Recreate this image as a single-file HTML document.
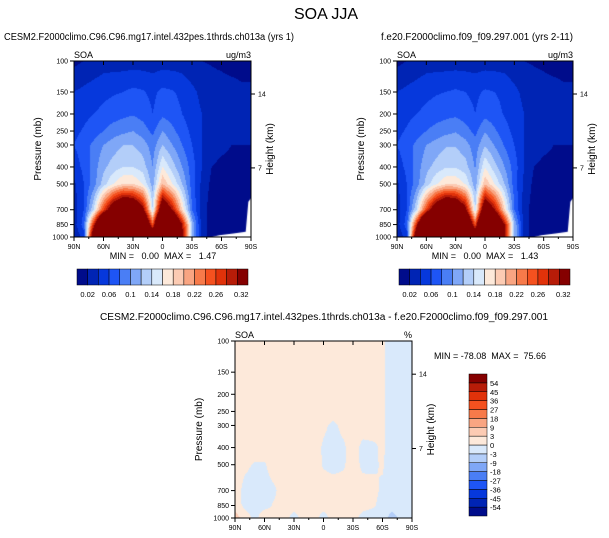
<!DOCTYPE html>
<html><head><meta charset="utf-8"><style>
body{margin:0;background:#fff;width:609px;height:538px;overflow:hidden;font-family:"Liberation Sans",sans-serif}
svg{position:absolute;left:0;top:0}
svg text{white-space:pre}
canvas{position:absolute}
</style></head><body>
<canvas id="c1"></canvas>
<canvas id="c2"></canvas>
<canvas id="c3"></canvas>
<svg id="s" width="609" height="538" font-family="Liberation Sans, sans-serif">
<text x="326" y="19" font-size="16" text-anchor="middle">SOA JJA</text>
<text x="149" y="40" font-size="10" text-anchor="middle" textLength="290" lengthAdjust="spacingAndGlyphs">CESM2.F2000climo.C96.C96.mg17.intel.432pes.1thrds.ch013a (yrs 1)</text>
<text x="477" y="40" font-size="10" text-anchor="middle" textLength="192" lengthAdjust="spacingAndGlyphs">f.e20.F2000climo.f09_f09.297.001 (yrs 2-11)</text>
<text x="324" y="320" font-size="10" text-anchor="middle" textLength="448" lengthAdjust="spacingAndGlyphs">CESM2.F2000climo.C96.C96.mg17.intel.432pes.1thrds.ch013a - f.e20.F2000climo.f09_f09.297.001</text>
</svg>
<script>
const lats=[90,80,70,60,50,40,30,20,10,0,-10,-20,-30,-40,-50,-60,-70,-80,-90];
const levs=[100,150,200,250,300,400,500,700,850,1000];
const soa1=[
[.015,.02,.025,.03,.03,.03,.03,.03,.03,.03,.03,.03,.025,.02,.018,.015,.01,.01,.01],
[.04,.045,.05,.055,.058,.06,.065,.062,.055,.065,.062,.055,.045,.035,.03,.03,.03,.025,.025],
[.05,.055,.06,.065,.07,.075,.078,.072,.06,.075,.07,.06,.05,.04,.035,.035,.035,.035,.035],
[.055,.062,.07,.08,.09,.095,.1,.09,.075,.1,.085,.07,.055,.04,.035,.032,.03,.03,.03],
[.06,.07,.085,.1,.11,.12,.12,.11,.09,.12,.1,.08,.06,.04,.03,.025,.02,.02,.02],
[.05,.065,.09,.115,.13,.14,.14,.13,.1,.16,.13,.1,.07,.04,.02,.015,.015,.015,.015],
[.035,.06,.09,.13,.16,.18,.18,.16,.11,.2,.16,.12,.07,.035,.015,.015,.015,.015,.015],
[.03,.06,.14,.26,.36,.42,.4,.32,.14,.38,.3,.18,.08,.03,.01,.01,.01,.01,.01],
[.03,.07,.28,.5,.6,.6,.55,.45,.25,.55,.45,.3,.12,.03,.01,.01,.01,.01,.01],
[.02,.05,.38,.6,.7,.7,.6,.5,.4,.6,.5,.32,.12,.03,.01,.005,.005,.005,.005]];
const soa2=[
[.015,.02,.025,.03,.03,.03,.03,.03,.03,.03,.03,.03,.025,.02,.018,.015,.01,.01,.01],
[.04,.045,.05,.055,.058,.06,.063,.06,.055,.063,.06,.055,.045,.035,.03,.03,.03,.025,.025],
[.05,.055,.06,.065,.07,.074,.076,.07,.06,.074,.068,.058,.05,.04,.035,.035,.035,.035,.035],
[.055,.062,.07,.08,.088,.093,.098,.088,.074,.098,.083,.068,.054,.04,.035,.032,.03,.03,.03],
[.06,.07,.085,.1,.108,.118,.118,.108,.088,.118,.098,.078,.06,.04,.03,.025,.02,.02,.02],
[.05,.065,.09,.113,.128,.138,.138,.128,.098,.158,.128,.1,.07,.04,.02,.015,.015,.015,.015],
[.035,.06,.09,.128,.158,.178,.178,.158,.108,.198,.158,.12,.07,.035,.015,.015,.015,.015,.015],
[.03,.06,.14,.26,.36,.42,.4,.32,.14,.38,.3,.18,.08,.03,.01,.01,.01,.01,.01],
[.03,.07,.28,.5,.6,.6,.55,.45,.25,.55,.45,.3,.12,.03,.01,.01,.01,.01,.01],
[.02,.05,.38,.6,.7,.7,.6,.5,.4,.6,.5,.32,.12,.03,.01,.005,.005,.005,.005]];
const diffPct=[
[1,1,1,1,1,1,1,1,1,1,1,1,1,1,1,.3,-1,-1,-1],
[1,1,1,1,1,1,1,1,1,1,1,1,1,1,1,.3,-1,-1,-1],
[1,1,1,1,1,1,1,1,1,1,1,1,1,1,1,.3,-1,-1,-1],
[1,1,1,1,1,1,1,1,1,1,1,1,1,1,1,.3,-1,-1,-1],
[1,1,1,1,1,1,1,1,1,.4,-.5,.6,1,1,1,.3,-1,-1,-1],
[1,1,1,1,1,1,1,1,1,-.3,-.7,-.4,1,-.6,-.4,.3,-1,-1,-1],
[1,.4,-.2,-.2,1,1,1,1,1,-.2,-.6,-.3,1,-.5,-.3,.2,-1,-1,-1],
[1,-.6,-.8,-.8,-.3,1,1,1,.5,1,1,1,1,1,.5,-.3,-1,-1,-1],
[1,-.5,-.7,-.5,.2,.4,.5,.5,.5,.5,.5,.5,.5,.5,.3,-.6,-1,-1,-1],
[5,1,-.5,1,.5,.5,-.5,.5,.5,-.5,.5,.5,.5,-.5,-1,-1,-5,-1,-1]];
const soaLevels=[.02,.04,.06,.08,.1,.12,.14,.16,.18,.2,.22,.24,.26,.28,.3];
const soaTickLabels=["0.02","0.06","0.1","0.14","0.18","0.22","0.26","0.32"];
const diffLevels=[-54,-45,-36,-27,-18,-9,-3,0,3,9,18,27,36,45,54];
const diffTickLabels=["-54","-45","-36","-27","-18","-9","-3","0","3","9","18","27","36","45","54"];
const pTicks=[100,150,200,250,300,400,500,700,850,1000];
const latTicks=[90,60,30,0,-30,-60,-90];
const latTickLabels=["90N","60N","30N","0","30S","60S","90S"];
const hTicks=[{p:154,l:"14"},{p:405,l:"7"}];
const cols=["#000c8b","#0024b4","#0638dc","#1e55f5","#4a7ef5","#7fa7f7","#b3cef9","#d9e9fb","#fde9da","#fccbb3","#f9a582","#f77a4a","#f5511f","#e1320a","#b71c08","#850000"];
const NS="http://www.w3.org/2000/svg";
const svg=document.getElementById('s');
function mk(tag,attrs,parent){const e=document.createElementNS(NS,tag);for(const k in attrs)e.setAttribute(k,attrs[k]);(parent||svg).appendChild(e);return e;}
function levelIndex(v,lv){let i=0;while(i<lv.length&&v>=lv[i])i++;return i;}
function sample(grid,lat,p){
  const lp=Math.log(p);
  let j=0;while(j<levs.length-2&&Math.log(levs[j+1])<lp)j++;
  const ty=(lp-Math.log(levs[j]))/(Math.log(levs[j+1])-Math.log(levs[j]));
  let i=0;while(i<lats.length-2&&lats[i+1]>lat)i++;
  const tx=(lats[i]-lat)/(lats[i]-lats[i+1]);
  const a=grid[j][i],b=grid[j][i+1],c=grid[j+1][i],d=grid[j+1][i+1];
  return (a*(1-tx)+b*tx)*(1-ty)+(c*(1-tx)+d*tx)*ty;
}
function panel(id,grid,lv,x0,y0,w,h,unit,minmax,mmx,mmy,white){
  const cv=document.getElementById(id);cv.width=w;cv.height=h;cv.style.left=x0+'px';cv.style.top=y0+'px';
  const ctx=cv.getContext('2d');
  const yOf=p=>y0+(Math.log(p)-Math.log(100))/(Math.log(1000)-Math.log(100))*h;
  const xOf=l=>x0+(90-l)/180*w;
  for(let py=0;py<h;py++){for(let px=0;px<w;px++){
    const lat=90-(px+.5)/w*180;const p=100*Math.pow(10,(py+.5)/h);
    ctx.fillStyle=cols[levelIndex(sample(grid,lat,p),lv)];ctx.fillRect(px,py,1,1);}}
  if(white){ctx.fillStyle="#fff";ctx.beginPath();ctx.moveTo(w*0.78,h);ctx.lineTo(w*0.82,h*0.99);ctx.lineTo(w*0.9,h*0.98);ctx.lineTo(w*0.97,h*0.97);ctx.lineTo(w*0.985,h*0.8);ctx.lineTo(w,h*0.78);ctx.lineTo(w,h);ctx.closePath();ctx.fill();}
  const g=mk('g',{});
  
  
  mk('rect',{x:x0,y:y0,width:w,height:h,fill:'none',stroke:'#000','stroke-width':1},g);
  pTicks.forEach(p=>{const y=yOf(p);mk('line',{x1:x0-4,x2:x0,y1:y,y2:y,stroke:'#000'},g);
    const t=mk('text',{x:x0-6,y:y+2.5,'font-size':7,'text-anchor':'end'},g);t.textContent=p;});
  latTicks.forEach((l,k)=>{const x=xOf(l);mk('line',{x1:x,x2:x,y1:y0+h,y2:y0+h+4,stroke:'#000'},g);mk('line',{x1:x,x2:x,y1:y0,y2:y0+4,stroke:'#000'},g);
    const t=mk('text',{x:x,y:y0+h+12,'font-size':7,'text-anchor':'middle'},g);t.textContent=latTickLabels[k];});
  for(let l=75;l>-90;l-=15){if(l%30===0)continue;const x=xOf(l);mk('line',{x1:x,x2:x,y1:y0+h,y2:y0+h+2,stroke:'#000'},g);}
  hTicks.forEach(o=>{const y=yOf(o.p);mk('line',{x1:x0+w,x2:x0+w+4,y1:y,y2:y,stroke:'#000'},g);
    const t=mk('text',{x:x0+w+7,y:y+2.5,'font-size':7},g);t.textContent=o.l;});
  let t=mk('text',{transform:`translate(${x0-33},${y0+h/2}) rotate(-90)`,'font-size':10,'text-anchor':'middle'},g);t.textContent="Pressure (mb)";
  t=mk('text',{transform:`translate(${x0+w+22},${y0+h/2}) rotate(-90)`,'font-size':10,'text-anchor':'middle'},g);t.textContent="Height (km)";
  t=mk('text',{x:x0,y:y0-3,'font-size':9},g);t.textContent="SOA";
  t=mk('text',{x:x0+w,y:y0-3,'font-size':9,'text-anchor':'end'},g);t.textContent=unit;
  t=mk('text',{x:mmx,y:mmy,'font-size':9,'text-anchor':'middle'},g);t.textContent=minmax;
}
function hbar(x0,y0,w,h,name){
  const g=mk('g',{});
  
  
  const bw=w/cols.length;
  cols.forEach((c,i)=>mk('rect',{x:x0+i*bw,y:y0,width:bw,height:h,fill:c,stroke:'#000','stroke-width':.5},g));
  soaTickLabels.forEach((s,k)=>{const t=mk('text',{x:x0+(2*k+1)*bw+(k===7?4:0),y:y0+h+12,'font-size':7.5,'text-anchor':'middle'},g);t.textContent=s;});
}
function vbar(x0,y0,w,h){
  const g=mk('g',{});
  
  
  const bh=h/cols.length;
  cols.forEach((c,i)=>mk('rect',{x:x0,y:y0+(cols.length-1-i)*bh,width:w,height:bh,fill:c,stroke:'#000','stroke-width':.5},g));
  diffTickLabels.forEach((s,k)=>{const t=mk('text',{x:x0+w+3,y:y0+(cols.length-1-k)*bh+3,'font-size':7.5},g);t.textContent=s;});
}
panel('c1',soa1,soaLevels,74,61,177,176,"ug/m3","MIN =   0.00  MAX =   1.47",163,259,true);
panel('c2',soa2,soaLevels,397,61,176,176,"ug/m3","MIN =   0.00  MAX =   1.43",485,259,true);
panel('c3',diffPct,diffLevels,235,341,177,177,"%","",0,0,false);
let mm=mk('text',{x:434,y:359,'font-size':9});


mm.textContent="MIN = -78.08  MAX =  75.66";
hbar(77,269,171,16,'colorbar-1');
hbar(399,269,171,16,'colorbar-2');
vbar(469,374,18,142);
</script>
</body></html>
